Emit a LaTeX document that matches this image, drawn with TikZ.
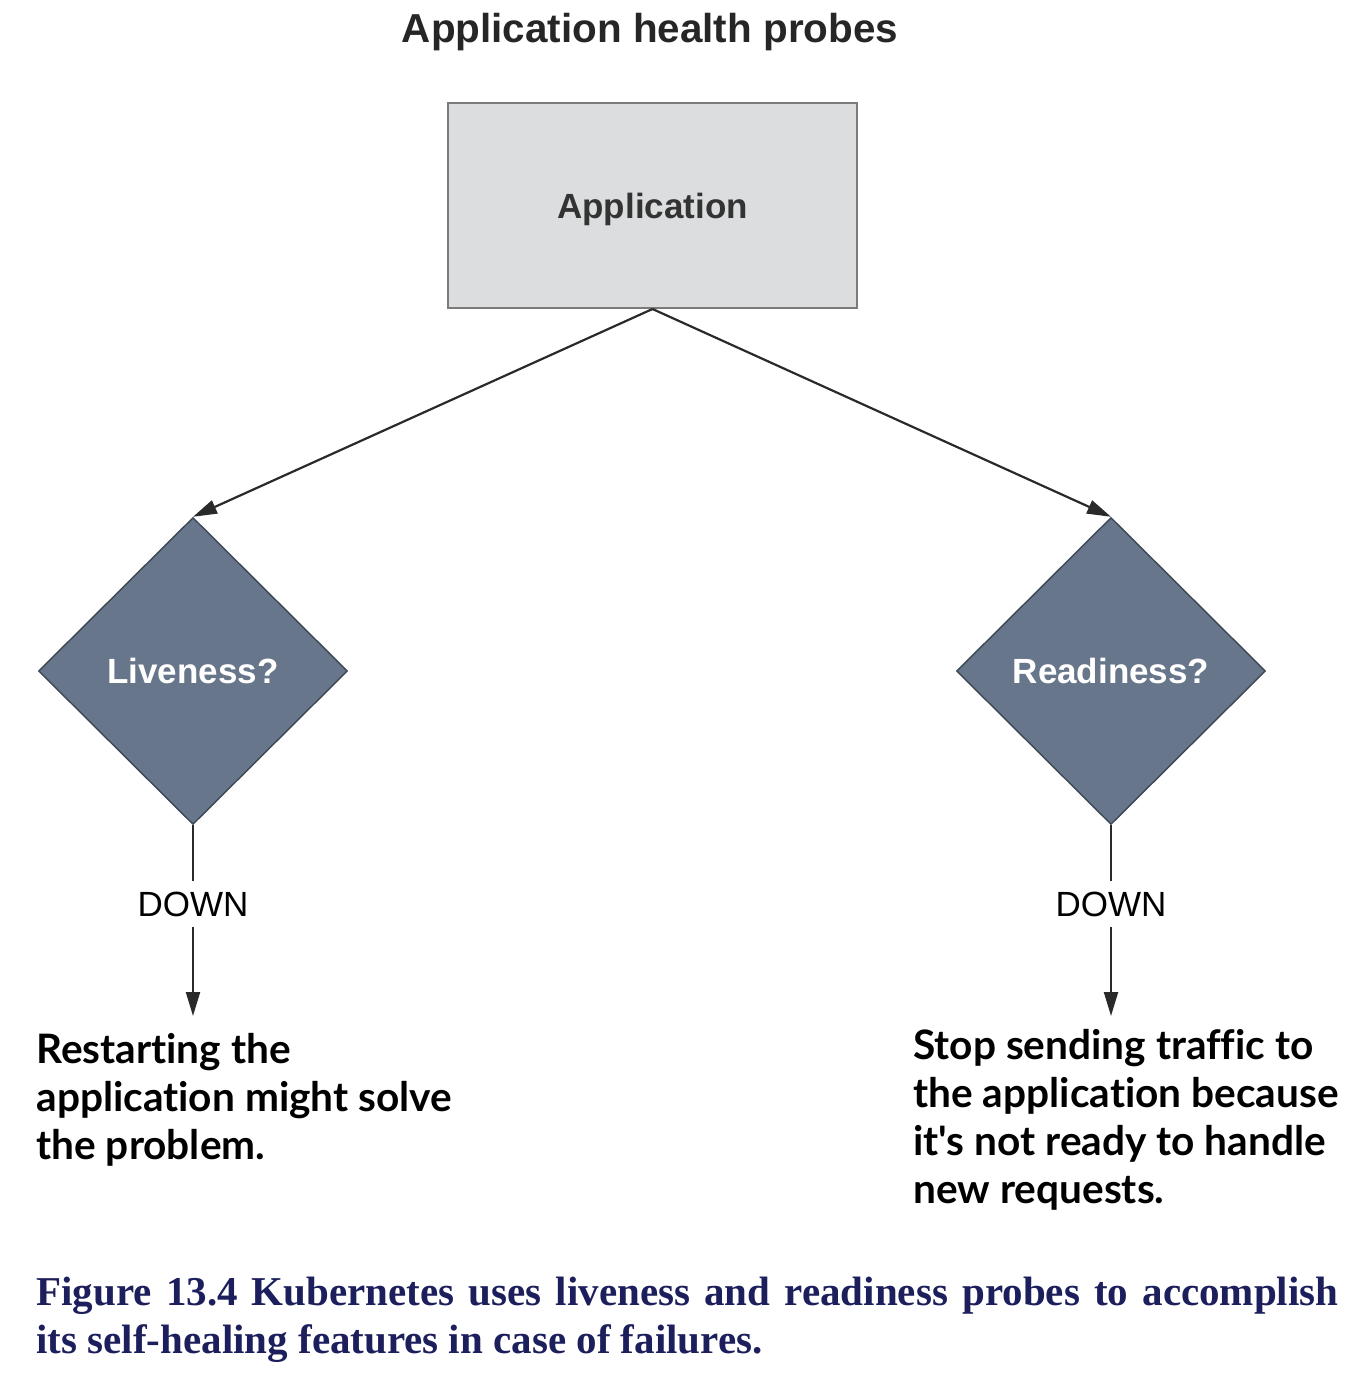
\documentclass[tikz,border=0pt]{standalone}
\usepackage{fontspec}
\setmainfont{Liberation Serif}
\setsansfont{Liberation Sans}
\newfontfamily\bodyfont[Ligatures=NoCommon]{Lato}
\usetikzlibrary{arrows.meta,shapes.geometric}
\definecolor{titlecol}{HTML}{262626}
\definecolor{appfill}{HTML}{DCDDDF}
\definecolor{appdraw}{HTML}{7B7B7B}
\definecolor{apptext}{HTML}{333333}
\definecolor{dfill}{HTML}{67768A}
\definecolor{ddraw}{HTML}{3C4756}
\definecolor{linecol}{HTML}{2A2A2A}
\definecolor{capcol}{HTML}{1C1F5C}
\tikzset{
  conn/.style={draw=linecol, line width=1.1pt},
  arr/.style={conn, -{Triangle[length=12pt,width=7pt]}},
  decision/.style={diamond, aspect=1, inner sep=0pt, minimum width=154.5pt, minimum height=153.5pt,
    fill=dfill, draw=ddraw, line width=0.7pt, text=white, font=\sffamily\bfseries\fontsize{17.5}{21}\selectfont},
  downlbl/.style={font=\sffamily\fontsize{17.5}{21}\selectfont, text=black, inner xsep=2pt, inner ysep=5pt},
  outcome/.style={anchor=north west, inner sep=0pt, align=left, text=black,
    font=\bodyfont\bfseries\fontsize{20.3}{24}\selectfont}
}
\begin{document}
\begin{tikzpicture}[x=0.5pt,y=-0.5pt]
\useasboundingbox (0,0) rectangle (1368,1380);
\node[font=\sffamily\bfseries\fontsize{20.2}{24}\selectfont, text=titlecol, text depth=0pt] (title) at (650,28) {Application health probes};
\node[draw=appdraw, fill=appfill, line width=1pt, minimum width=204.5pt, minimum height=102.5pt, text depth=0pt,
      text=apptext, font=\sffamily\bfseries\fontsize{17.5}{21}\selectfont] (app) at (652.5,205.5) {Application};
\node[decision] (live) at (193,671) {Liveness?};
\node[decision] (ready) at (1111,671) {Readiness?};
\draw[arr] (app.south) -- (live.north);
\draw[arr] (app.south) -- (ready.north);
\node[downlbl] (down1) at (193,904) {DOWN};
\node[downlbl] (down2) at (1111,904) {DOWN};
\coordinate (tip1) at (193,1016);
\coordinate (tip2) at (1111,1016);
\draw[conn] (live.south) -- (down1.north);
\draw[arr] (down1.south) -- (tip1);
\draw[conn] (ready.south) -- (down2.north);
\draw[arr] (down2.south) -- (tip2);
\node[outcome] (res1) at (36,1033) {Restarting the\\application might solve\\the problem.};
\node[outcome] (res2) at (913,1029) {Stop sending traffic to\\the application because\\it's not ready to handle\\new requests.};
\node[anchor=north west, inner sep=0pt, text width=651pt, align=justify, text=capcol,
      font=\rmfamily\bfseries\fontsize{20.5}{24}\selectfont] (cap) at (36,1277)
  {Figure 13.4 Kubernetes uses liveness and readiness probes to accomplish\linebreak its self-healing features in case of failures.};
\end{tikzpicture}
\end{document}
